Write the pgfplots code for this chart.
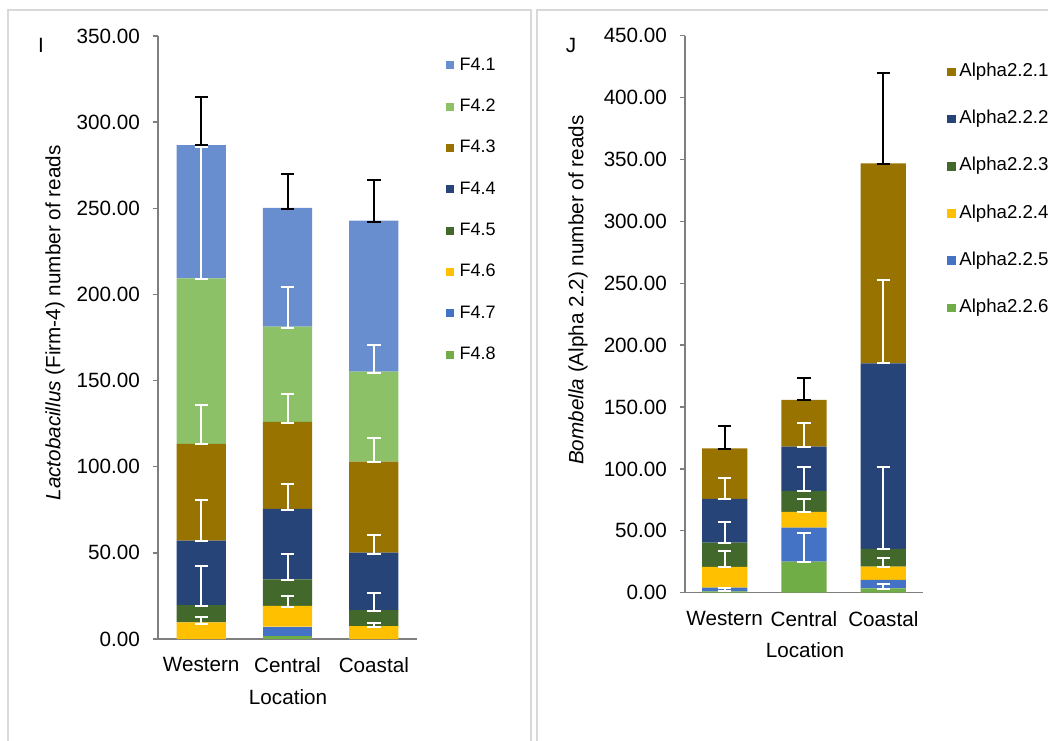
\documentclass[border=0pt]{standalone}
\usepackage{fontspec}
\setmainfont{Liberation Sans}
\usepackage{pgfplots}
\usepackage{pgfplotstable}
\pgfplotsset{compat=1.18}

\definecolor{cA}{HTML}{698ED0}
\definecolor{cB}{HTML}{8CC168}
\definecolor{cC}{HTML}{997300}
\definecolor{cD}{HTML}{264478}
\definecolor{cE}{HTML}{43682B}
\definecolor{cF}{HTML}{FFC000}
\definecolor{cG}{HTML}{4472C4}
\definecolor{cH}{HTML}{70AD47}
\definecolor{axgray}{HTML}{7F7F7F}
\definecolor{framegray}{HTML}{D9D9D9}

% Left chart segments (bottom to top: F4.8 ... F4.1)
\pgfplotstableread{
x  f48  f47  f46  f45  f44  f43  f42  f41
0  0.0  0.0  9.7  10.0 37.4 56.1 96.1 77.4
1  1.5  5.7  12.0 15.4 40.9 50.5 55.3 69.0
2  0.0  0.0  7.5  9.3  33.3 52.8 52.3 87.6
}\left

% Left chart error bars (white), lo/hi
\pgfplotstableread{
x  lo     hi
0  8.5    12.6
0  19.2   42.5
0  56.8   80.7
0  113.0  135.6
0  209.0  285.7
1  18.6   25.1
1  34.0   49.3
1  74.8   90.0
1  125.5  142.2
1  180.8  204.1
2  7.0    9.3
2  16.0   26.9
2  49.5   60.2
2  102.5  116.7
2  154.5  170.6
}\lefterr

\pgfplotstableread{
x  lo     hi
0  286.5  314.8
1  249.8  270.0
2  242.2  266.4
}\lefttop

% Right chart segments (bottom to top: Alpha2.2.6 ... Alpha2.2.1)
\pgfplotstableread{
x  a6    a5    a4    a3    a2     a1
0  1.0   3.0   16.8  19.6  35.3   40.9
1  25.0  27.5  12.7  17.0  35.8   37.7
2  3.5   6.8   10.7  14.3  150.0  161.6
}\right

\pgfplotstableread{
x  lo     hi
0  1.5    4.0
0  20.5   33.4
0  40.0   57.4
0  75.5   92.9
1  25.0   48.5
1  65.0   75.9
1  82.0   101.3
1  118.0  136.9
2  3.0    6.8
2  21.0   27.8
2  35.0   101.8
2  185.3  252.6
}\righterr

\pgfplotstableread{
x  lo     hi
0  116.0  134.7
1  155.5  173.7
2  346.5  419.6
}\righttop

\newcommand{\tickfont}{\fontsize{15.5}{18}\selectfont}
\newcommand{\legfont}{\fontsize{13.5}{16}\selectfont}

\pgfplotsset{
  base/.style={
    scale only axis,
    anchor=south west,
    xmin=-0.5, xmax=2.5,
    xtick={0,1,2},
    xticklabels={Western,Central,Coastal},
    axis x line*=bottom,
    axis y line*=left,
    axis line style={draw=axgray, line width=1pt},
    x tick style={draw=none},
    y tick style={draw=axgray, line width=1pt},
    tick align=outside,
    major tick length=4pt,
    tick label style={font=\tickfont},
    yticklabel style={xshift=-6pt},
    xticklabel style={yshift=-6.5pt},
    label style={font=\tickfont},
    clip=false,
  },
  overlay/.style={
    scale only axis,
    anchor=south west,
    xmin=-0.5, xmax=2.5,
    hide axis,
    clip=false,
  },
  whiteerr/.style={
    draw=none, mark=none,
    error bars/y dir=both, error bars/y explicit,
    error bars/error mark=-,
    error bars/error bar style={draw=white, line width=1.5pt},
    error bars/error mark options={rotate=90, draw=white, line width=1.5pt, mark size=5pt},
  },
  blackerr/.style={
    draw=none, mark=none,
    error bars/y dir=both, error bars/y explicit,
    error bars/error mark=-,
    error bars/error bar style={draw=black, line width=1.5pt},
    error bars/error mark options={rotate=90, draw=black, line width=1.5pt, mark size=5pt},
  },
}

\begin{document}
\begin{tikzpicture}
\useasboundingbox (0,0) rectangle (786pt,555pt);
\clip (0,0) rectangle (786pt,555pt);
\fill[white] (0,0) rectangle (786pt,555pt);
\draw[framegray, line width=1.5pt] (6pt,-5pt) rectangle (398.25pt,547.5pt);
\draw[framegray, line width=1.5pt] (402.75pt,-5pt) rectangle (795pt,547.5pt);

\node[font=\tickfont, anchor=center] at (30.75pt,521.25pt) {I};
\node[font=\tickfont, anchor=center] at (428.25pt,521.25pt) {J};

% ---------------- Left chart ----------------
\begin{axis}[base,
  at={(118.5pt,75.75pt)},
  width=194.25pt, height=452.25pt,
  ymin=0, ymax=350,
  ytick={0,50,100,150,200,250,300,350},
  yticklabels={0.00,50.00,100.00,150.00,200.00,250.00,300.00,350.00},
  ybar stacked, bar width=0.57,
  ylabel={\textit{Lactobacillus} (Firm-4) number of reads},
  ylabel style={at={(axis description cs:-0.398,0.524)}, anchor=center, rotate=0},
  xlabel={Location},
  xlabel style={at={(axis description cs:0.502,-0.096)}, anchor=center},
  legend style={at={(1.112,0.966)}, anchor=north west, draw=none, fill=none,
    font=\legfont, inner sep=0pt, row sep=18pt, column sep=4pt,
    nodes={inner sep=0pt, text height=10pt, text depth=3pt}},
  legend cell align=left,
  reverse legend,
  legend image code/.code={\fill[#1] (0pt,-3pt) rectangle (6pt,3pt);},
]
\addplot[fill=cH, draw=none] table[x=x, y=f48] {\left};
\addplot[fill=cG, draw=none] table[x=x, y=f47] {\left};
\addplot[fill=cF, draw=none] table[x=x, y=f46] {\left};
\addplot[fill=cE, draw=none] table[x=x, y=f45] {\left};
\addplot[fill=cD, draw=none] table[x=x, y=f44] {\left};
\addplot[fill=cC, draw=none] table[x=x, y=f43] {\left};
\addplot[fill=cB, draw=none] table[x=x, y=f42] {\left};
\addplot[fill=cA, draw=none] table[x=x, y=f41] {\left};
\legend{F4.8,F4.7,F4.6,F4.5,F4.4,F4.3,F4.2,F4.1}
\end{axis}

\begin{axis}[overlay,
  at={(118.5pt,75.75pt)},
  width=194.25pt, height=452.25pt,
  ymin=0, ymax=350,
]
\addplot[whiteerr] table[x=x, y expr={(\thisrow{lo}+\thisrow{hi})/2}, y error expr={(\thisrow{hi}-\thisrow{lo})/2}] {\lefterr};
\addplot[blackerr] table[x=x, y expr={(\thisrow{lo}+\thisrow{hi})/2}, y error expr={(\thisrow{hi}-\thisrow{lo})/2}] {\lefttop};
\end{axis}

% ---------------- Right chart ----------------
\begin{axis}[base,
  at={(513.75pt,110.5pt)},
  width=178.5pt, height=417.75pt,
  ymin=0, ymax=450,
  ytick={0,50,100,150,200,250,300,350,400,450},
  yticklabels={0.00,50.00,100.00,150.00,200.00,250.00,300.00,350.00,400.00,450.00},
  ybar stacked, bar width=0.57,
  ylabel={\textit{Bombella} (Alpha 2.2) number of reads},
  ylabel style={at={(axis description cs:-0.45,0.543)}, anchor=center, rotate=0},
  xlabel={Location},
  xlabel style={at={(axis description cs:0.504,-0.103)}, anchor=center},
  legend style={at={(1.101,0.951)}, anchor=north west, draw=none, fill=none,
    font=\fontsize{14}{16}\selectfont, inner sep=0pt, row sep=22.4pt, column sep=2.5pt,
    nodes={inner sep=0pt, text height=10pt, text depth=3pt}},
  legend cell align=left,
  reverse legend,
  legend image code/.code={\fill[#1] (0pt,-3.2pt) rectangle (6.5pt,3.2pt);},
]
\addplot[fill=cH, draw=none] table[x=x, y=a6] {\right};
\addplot[fill=cG, draw=none] table[x=x, y=a5] {\right};
\addplot[fill=cF, draw=none] table[x=x, y=a4] {\right};
\addplot[fill=cE, draw=none] table[x=x, y=a3] {\right};
\addplot[fill=cD, draw=none] table[x=x, y=a2] {\right};
\addplot[fill=cC, draw=none] table[x=x, y=a1] {\right};
\legend{Alpha2.2.6,Alpha2.2.5,Alpha2.2.4,Alpha2.2.3,Alpha2.2.2,Alpha2.2.1}
\end{axis}

\begin{axis}[overlay,
  at={(513.75pt,110.5pt)},
  width=178.5pt, height=417.75pt,
  ymin=0, ymax=450,
]
\addplot[whiteerr] table[x=x, y expr={(\thisrow{lo}+\thisrow{hi})/2}, y error expr={(\thisrow{hi}-\thisrow{lo})/2}] {\righterr};
\addplot[blackerr] table[x=x, y expr={(\thisrow{lo}+\thisrow{hi})/2}, y error expr={(\thisrow{hi}-\thisrow{lo})/2}] {\righttop};
\end{axis}
\end{tikzpicture}
\end{document}
